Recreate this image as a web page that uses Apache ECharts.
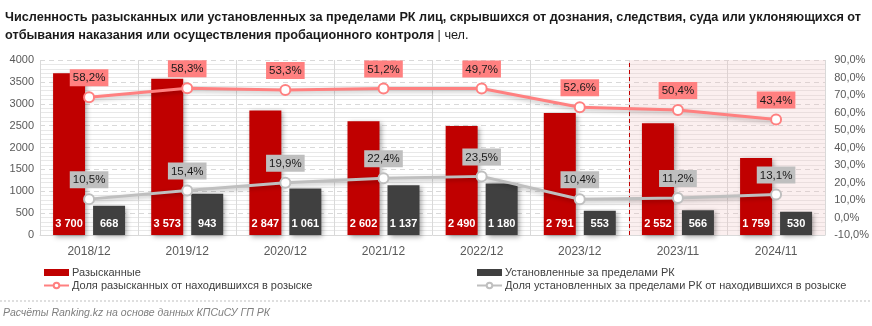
<!DOCTYPE html>
<html><head><meta charset="utf-8">
<script src="https://cdn.jsdelivr.net/npm/echarts@6/dist/echarts.min.js"></script>
<style>html,body{margin:0;padding:0;background:#fff}#c{width:872px;height:326px}</style>
</head><body><div id="c"></div>
<script>
const categories = ['2018/12','2019/12','2020/12','2021/12','2022/12','2023/12','2023/11','2024/11'];
const searched = [3700, 3573, 2847, 2602, 2490, 2791, 2552, 1759];
const abroad = [668, 943, 1061, 1137, 1180, 553, 566, 530];
// share of searched: plotted positions and printed labels as shown in the picture
const searchedSharePlot = [68.7, 73.9, 72.9, 73.7, 73.7, 63.0, 61.4, 56.0];
const searchedShareLabel = ['58,2%','58,3%','53,3%','51,2%','49,7%','52,6%','50,4%','43,4%'];
const abroadShare = [10.5, 15.4, 19.9, 22.4, 23.5, 10.4, 11.2, 13.1];
const leftTicks = {min:0, max:4000, interval:500};
const rightTicks = {min:-10, max:90, interval:10};
const titleLine1 = 'Численность разысканных или установленных за пределами РК лиц, скрывшихся от дознания, следствия, суда или уклоняющихся от';
const titleLine2 = 'отбывания наказания или осуществления пробационного контроля';
const titleUnit = '| чел.';
const sourceText = 'Расчёты Ranking.kz на основе данных КПСиСУ ГП РК';

const FONT = "'Liberation Sans',Arial,sans-serif";
const TFONT_B = "bold 12.5px " + FONT;
const TFONT_N = "12.5px " + FONT;
const mctx = document.createElement('canvas').getContext('2d');
function tw(font, s){ mctx.font = font; return mctx.measureText(s).width; }
const titleScale = 856 / tw(TFONT_B, titleLine1);
const line2W = tw(TFONT_B, titleLine2 + ' ') * titleScale;

const chart = echarts.init(document.getElementById('c'));
const fmtThousands = v => String(v).replace(/\B(?=(\d{3})+(?!\d))/g, ' ');
const fmtPct = v => v.toFixed(1).replace('.', ',') + '%';

chart.setOption({
  animation:false,
  textStyle:{fontFamily:FONT},
  legend:[
    {left:38, top:262, orient:'vertical', itemGap:2, itemWidth:25, itemHeight:7,
     textStyle:{fontFamily:FONT, fontSize:11, color:'#404040', padding:[0,0,0,-2]},
     data:[{name:'Разысканные', icon:'rect'},{name:'Доля разысканных от находившихся в розыске'}]},
    {left:471, top:262, orient:'vertical', itemGap:2, itemWidth:25, itemHeight:7,
     textStyle:{fontFamily:FONT, fontSize:11, color:'#404040', padding:[0,0,0,-2]},
     data:[{name:'Установленные за пределами РК', icon:'rect'},{name:'Доля установленных за пределами РК от находившихся в розыске'}]}
  ],
  grid:{left:40, right:46, top:60, bottom:91},
  xAxis:[{
    type:'category', data:categories,
    axisLine:{lineStyle:{color:'#d9d9d9'}}, axisTick:{show:false},
    axisLabel:{color:'#595959', fontSize:12, margin:11, fontFamily:FONT},
    splitLine:{show:true, lineStyle:{color:'#d9d9d9', width:1}}
  },{
    type:'value', min:0, max:8, show:false
  }],
  yAxis:[{
    type:'value', min:leftTicks.min, max:leftTicks.max, interval:leftTicks.interval,
    axisLine:{show:false}, axisTick:{show:false},
    axisLabel:{color:'#595959', fontSize:11, margin:6, fontFamily:FONT, formatter:v=>String(v)},
    splitLine:{lineStyle:{color:'#d9d9d9', type:[5,4]}},
    minorTick:{show:false, splitNumber:5},
    minorSplitLine:{show:true, lineStyle:{color:'#e8e8e8'}}
  },{
    type:'value', min:rightTicks.min, max:rightTicks.max, interval:rightTicks.interval,
    axisLine:{show:false}, axisTick:{show:false}, splitLine:{show:false},
    axisLabel:{color:'#595959', fontSize:11, margin:9, fontFamily:FONT, formatter:v=>fmtPct(v)}
  }],
  series:[
    {name:'area', type:'line', xAxisIndex:1, yAxisIndex:0, data:[], silent:true,
     markArea:{silent:true, itemStyle:{color:'rgba(240,190,190,0.25)'}, data:[[{xAxis:6, yAxis:0},{xAxis:8, yAxis:4000}]]},
     markLine:{silent:true, symbol:'none', label:{show:false}, lineStyle:{color:'#c00000', type:[4,3], width:1},
       data:[[{xAxis:6, yAxis:0},{xAxis:6, yAxis:4000}]]}
    },
    {name:'Разысканные', type:'bar', data:searched, barWidth:32, barGap:'25%',
     itemStyle:{color:'#c00000', shadowBlur:5, shadowColor:'rgba(0,0,0,0.35)', shadowOffsetX:2, shadowOffsetY:2},
     label:{show:true, position:'insideBottom', distance:6, color:'#fff', fontWeight:'bold', fontSize:11, fontFamily:FONT, formatter:p=>fmtThousands(p.value)}
    },
    {name:'Установленные за пределами РК', type:'bar', data:abroad, barWidth:32,
     itemStyle:{color:'#404040', shadowBlur:5, shadowColor:'rgba(0,0,0,0.35)', shadowOffsetX:2, shadowOffsetY:2},
     label:{show:true, position:'insideBottom', distance:6, color:'#fff', fontWeight:'bold', fontSize:11, fontFamily:FONT, formatter:p=>fmtThousands(p.value)}
    },
    {name:'Доля разысканных от находившихся в розыске', type:'line', yAxisIndex:1, data:searchedSharePlot,
     symbol:'circle', symbolSize:10, z:5,
     lineStyle:{color:'#ff8080', width:3, shadowBlur:4, shadowColor:'rgba(0,0,0,0.25)', shadowOffsetY:2},
     itemStyle:{color:'#ffffff', borderColor:'#ff8080', borderWidth:2},
     label:{show:true, position:'top', distance:5, color:'#1a1a1a', fontSize:11.5, fontFamily:FONT,
       backgroundColor:'#ff8080', padding:[3,3,2,3], formatter:p=>searchedShareLabel[p.dataIndex]}
    },
    {name:'Доля установленных за пределами РК от находившихся в розыске', type:'line', yAxisIndex:1, data:abroadShare,
     symbol:'circle', symbolSize:10, z:5,
     lineStyle:{color:'#bfbfbf', width:3, shadowBlur:4, shadowColor:'rgba(0,0,0,0.25)', shadowOffsetY:2},
     itemStyle:{color:'#ffffff', borderColor:'#bfbfbf', borderWidth:2},
     label:{show:true, position:'top', distance:5, color:'#1a1a1a', fontSize:11.5, fontFamily:FONT,
       backgroundColor:'#bfbfbf', padding:[3,3,2,3], formatter:p=>fmtPct(p.value)}
    }
  ],
  graphic:[
    {type:'text', x:5, y:18, scaleX:titleScale, style:{text:titleLine1, font:TFONT_B, fill:'#1a1a1a', verticalAlign:'middle'}},
    {type:'text', x:5, y:36, scaleX:titleScale, style:{text:titleLine2, font:TFONT_B, fill:'#1a1a1a', verticalAlign:'middle'}},
    {type:'text', x:5 + line2W, y:36, scaleX:titleScale, style:{text:titleUnit, font:TFONT_N, fill:'#1a1a1a', verticalAlign:'middle'}},
    {type:'line', shape:{x1:0, y1:301, x2:872, y2:301}, style:{stroke:'#bfbfbf', lineDash:[2,2], lineWidth:1}},
    {type:'text', x:3, y:313, style:{text:sourceText, font:"italic 10.5px " + FONT, fill:'#7f7f7f', verticalAlign:'middle'}}
  ]
});
</script></body></html>
